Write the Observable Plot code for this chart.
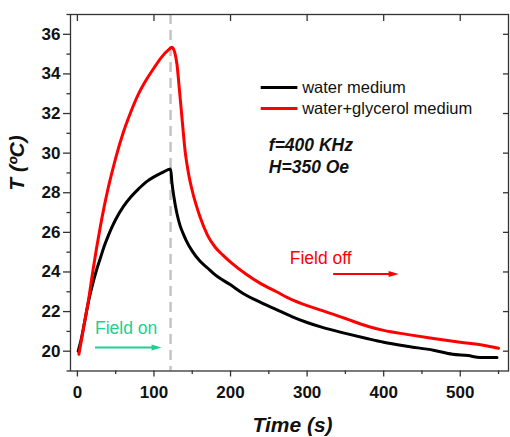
<!DOCTYPE html>
<html>
<head>
<meta charset="utf-8">
<script src="https://cdn.jsdelivr.net/npm/d3@7"></script>
<script src="https://cdn.jsdelivr.net/npm/@observablehq/plot@0.6"></script>
<style>
  html, body { margin: 0; padding: 0; background: #fff; }
  svg { display: block; }
</style>
</head>
<body>
<div id="chart"></div>
<script>
// ---------- data ----------
const waterTime = [1, 5, 10, 15, 20, 25, 30, 35, 40, 45, 50, 60, 70, 80, 90, 100, 110, 121.7,
  123.5, 126, 130, 134, 138, 142, 150, 160, 170, 180, 200, 217, 240, 260, 280, 300, 320, 350, 378, 400, 430, 465, 490, 510, 526, 548];
const waterTemp = [20.0, 20.6, 21.6, 22.6, 23.4, 24.1, 24.7, 25.3, 25.8, 26.25, 26.65, 27.3, 27.8, 28.2, 28.55, 28.8, 29.0, 29.2,
  28.5, 27.8, 26.95, 26.35, 25.95, 25.6, 25.05, 24.55, 24.2, 23.85, 23.35, 22.9, 22.45, 22.1, 21.75, 21.45, 21.2, 20.9, 20.64, 20.45, 20.25, 20.05, 19.85, 19.78, 19.68, 19.68];

const glycTime = [2, 5, 10, 15, 20, 25, 30, 35, 40, 45, 50, 60, 70, 80, 90, 100, 110, 120, 123.5,
  127, 130, 133, 137, 141, 145, 150, 160, 170, 180, 190, 200, 220, 240, 260, 280, 300, 320, 350, 380, 400, 430, 465, 500, 530, 550];
const glycTemp = [19.85, 20.5, 21.6, 22.7, 24.0, 25.2, 26.3, 27.3, 28.2, 29.0, 29.75, 31.05, 32.1, 33.0, 33.7, 34.3, 34.85, 35.25, 35.35,
  35.1, 34.5, 33.3, 31.6, 30.0, 29.0, 28.1, 26.8, 25.85, 25.25, 24.85, 24.5, 23.9, 23.4, 23.0, 22.6, 22.3, 22.05, 21.65, 21.25, 21.05, 20.85, 20.64, 20.45, 20.3, 20.15];

const seriesNames = ["water medium", "water+glycerol medium"];
const seriesColors = ["#000000", "#ff0000"];

const xTicks = [0, 100, 200, 300, 400, 500];
const xMinorTicks = [50, 150, 250, 350, 450, 550];
const yTicks = [20, 22, 24, 26, 28, 30, 32, 34, 36];
const yMinorTicks = [19, 21, 23, 25, 27, 29, 31, 33, 35, 37];

const fieldSwitchTime = [121.7];
const xLabel = "Time (s)";
const yLabel = "T (ºC)";
const conditionLines = ["f=400 KHz", "H=350 Oe"];

// annotation anchors (data coordinates)
const fieldOn = {text: "Field on", x: 23, y: 21.13, x1: 23, x2: 104, ay: 20.19, head: 103.4, color: "#20d090"};
const fieldOff = {text: "Field off", x: 277.3, y: 24.71, x1: 334, x2: 414, ay: 23.9, head: 413, color: "#ff0000"};
const legendPos = {x1: 239.4, x2: 287.3, tx: 293.5, y: [33.32, 32.26]};
const condPos = {x: 250, y: [30.40, 29.29]};

// ---------- tables ----------
const water = waterTime.map((t, i) => ({t, T: waterTemp[i]}));
const glyc = glycTime.map((t, i) => ({t, T: glycTemp[i]}));
const legend = seriesNames.map((name, i) => ({name, color: seriesColors[i], y: legendPos.y[i]}));
const cond = conditionLines.map((s, i) => ({s, y: condPos.y[i]}));
const arrows = [fieldOn, fieldOff];

const arrowHead = {
  draw(ctx, size) {
    const s = Math.sqrt(size / Math.PI);
    ctx.moveTo(s, 0);
    ctx.lineTo(-s, -s * 0.6);
    ctx.lineTo(-s, s * 0.6);
    ctx.closePath();
  }
};

const FONT = "'Liberation Sans', Arial, sans-serif";

const chart = Plot.plot({
  width: 510,
  height: 437,
  marginLeft: 70,
  marginRight: 2,
  marginTop: 14,
  marginBottom: 66.5,
  style: {fontFamily: FONT, background: "#fff"},
  x: {domain: [-9, 563]},
  y: {domain: [19, 37]},
  marks: [
    Plot.ruleX(fieldSwitchTime, {stroke: "#c4c4c4", strokeWidth: 2.5, strokeDasharray: "10,6"}),
    Plot.line(water, {x: "t", y: "T", stroke: seriesColors[0], strokeWidth: 3, curve: "monotone-x"}),
    Plot.line(glyc, {x: "t", y: "T", stroke: seriesColors[1], strokeWidth: 3, curve: "monotone-x"}),
    Plot.frame({stroke: "#333", strokeWidth: 1.3}),
    Plot.axisX({anchor: "bottom", ticks: xTicks, tickSize: 6, tickPadding: 9, tickFormat: d => String(d),
      fontSize: 17, fontWeight: "bold", label: null, stroke: "#333", strokeWidth: 1.3, fill: "#111"}),
    Plot.axisX({anchor: "bottom", ticks: xMinorTicks, tickSize: 3.5, tickFormat: () => "", label: null, stroke: "#333", strokeWidth: 1.3}),
    Plot.axisX({anchor: "top", ticks: xTicks, tickSize: 6, dy: 6, tickFormat: () => "", label: null, stroke: "#333", strokeWidth: 1.3}),
    Plot.axisY({anchor: "left", ticks: yTicks, tickSize: 7, tickPadding: 3, tickFormat: d => String(d),
      fontSize: 17, fontWeight: "bold", label: null, stroke: "#333", strokeWidth: 1.3, fill: "#111"}),
    Plot.axisY({anchor: "left", ticks: yMinorTicks, tickSize: 3.5, tickFormat: () => "", label: null, stroke: "#333", strokeWidth: 1.3}),
    Plot.axisY({anchor: "right", ticks: yTicks, tickSize: 6, dx: -6, tickFormat: () => "", label: null, stroke: "#333", strokeWidth: 1.3}),
    Plot.text([xLabel], {frameAnchor: "bottom", dy: 54.5, dx: 3, text: d => d, fontSize: 21, fontWeight: "bold",
      fontStyle: "italic", fill: "#111", lineAnchor: "middle"}),
    Plot.text([yLabel], {frameAnchor: "left", dx: -53, dy: -2, rotate: -90, text: d => d, fontSize: 21, fontWeight: "bold",
      fontStyle: "italic", fill: "#111", lineAnchor: "middle"}),
    Plot.link(legend, {x1: () => legendPos.x1, x2: () => legendPos.x2, y1: "y", y2: "y", stroke: "color", strokeWidth: 3}),
    Plot.text(legend, {x: () => legendPos.tx, y: "y", text: "name", textAnchor: "start", lineAnchor: "middle", fontSize: 16.5, fill: "#111"}),
    Plot.text(cond, {x: () => condPos.x, y: "y", text: "s", textAnchor: "start", lineAnchor: "middle", fontSize: 17.5,
      fontWeight: "bold", fontStyle: "italic", fill: "#111"}),
    Plot.text(arrows, {x: "x", y: "y", text: "text", fill: "color", textAnchor: "start", lineAnchor: "middle", fontSize: 17.5}),
    Plot.link(arrows, {x1: "x1", x2: "x2", y1: "ay", y2: "ay", stroke: "color", strokeWidth: 2}),
    Plot.dot(arrows, {x: "head", y: "ay", r: 5, symbol: arrowHead, fill: "color", stroke: "none"})
  ]
});

document.getElementById("chart").appendChild(chart);
</script>
</body>
</html>
